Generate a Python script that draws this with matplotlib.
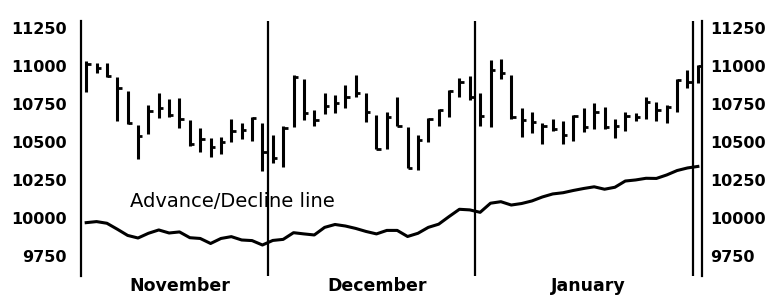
import matplotlib
matplotlib.use('Agg')
from matplotlib import pyplot as plt

# daily high / low / close, Nov -> Jan (60 sessions)
highs = [11035, 11018, 11022, 10930, 10837, 10612, 10743, 10824, 10781, 10787,
         10645, 10590, 10524, 10535, 10649, 10627, 10666, 10627,
         10546, 10605, 10941, 10913, 10711, 10824, 10809, 10875, 10941, 10824,
         10678, 10696, 10798, 10601, 10546, 10656, 10717, 10842, 10919, 10936,
         10820, 11039, 11044, 10941, 10722, 10699, 10623, 10649, 10640, 10678,
         10722, 10759, 10732, 10649, 10699, 10693, 10794, 10765, 10743, 10912,
         10974, 11007]
lows = [10831, 10952, 10930, 10640, 10618, 10386, 10553, 10656, 10663, 10590,
        10474, 10436, 10399, 10421, 10502, 10518, 10509, 10311,
        10360, 10337, 10597, 10645, 10605, 10682, 10689, 10722, 10794, 10634,
        10452, 10454, 10607, 10331, 10316, 10498, 10607, 10666, 10798, 10776,
        10605, 10597, 10912, 10649, 10535, 10557, 10487, 10574, 10487, 10509,
        10568, 10584, 10584, 10524, 10574, 10640, 10649, 10640, 10627, 10699,
        10853, 10890]
closes = [11010, 10985, 10935, 10855, 10623, 10540, 10706, 10725, 10675, 10649,
          10487, 10518, 10465, 10502, 10570, 10579, 10655, 10434,
          10395, 10590, 10926, 10690, 10645, 10737, 10755, 10794, 10820, 10699,
          10452, 10666, 10607, 10331, 10513, 10651, 10711, 10836, 10897, 10798,
          10671, 10974, 10952, 10662, 10645, 10634, 10605, 10584, 10546, 10671,
          10597, 10699, 10597, 10605, 10671, 10662, 10765, 10711, 10732, 10908,
          10897, 11000]
ad_line = [9969, 9976, 9965, 9926, 9885, 9868, 9899, 9921, 9901, 9908,
           9870, 9865, 9832, 9865, 9877, 9855, 9851, 9822,
           9852, 9859, 9903, 9895, 9888, 9938, 9957, 9947, 9931, 9911,
           9895, 9918, 9918, 9878, 9899, 9938, 9959, 10009, 10057, 10053,
           10037, 10097, 10107, 10085, 10095, 10112, 10138, 10158, 10166, 10181,
           10194, 10205, 10189, 10202, 10243, 10250, 10261, 10260, 10283, 10312,
           10329, 10339]
months = ['November', 'December', 'January']
month_centers = [9.0, 28.1, 48.4]
month_breaks = [17.5, 37.5, 58.5]
yticks = [9750, 10000, 10250, 10500, 10750, 11000, 11250]

days = list(range(len(highs)))

fig = plt.figure(figsize=(7.72, 2.97), dpi=100)
ax = fig.add_axes([81 / 772, 1 - 276 / 297, 621 / 772, 255 / 297])

ax.vlines(days, lows, highs, color='black', lw=2.2)
ax.hlines(closes, days, [d + 0.42 for d in days], color='black', lw=2.0)
ax.plot(days, ad_line, color='black', lw=2.2)

for b in month_breaks:
    ax.axvline(b, color='black', lw=1.6)

ax.set_xlim(-0.5, 59.4)
ax.set_ylim(9618, 11296)
ax.set_yticks(yticks)
ax.set_xticks([])
ax.tick_params(axis='y', length=0, pad=10, labelsize=11.5)
for lab in ax.get_yticklabels():
    lab.set_fontweight('bold')

right = ax.secondary_yaxis('right')
right.set_yticks(yticks)
right.tick_params(axis='y', length=0, pad=6, labelsize=11.5)
right.spines['right'].set_visible(False)
for lab in right.get_yticklabels():
    lab.set_fontweight('bold')

for s in ['top', 'bottom']:
    ax.spines[s].set_visible(False)
for s in ['left', 'right']:
    ax.spines[s].set_linewidth(1.6)

for m, c in zip(months, month_centers):
    ax.text(c, 9553, m, ha='center', va='center', fontsize=12.5,
            fontweight='bold', clip_on=False)

ax.text(4.2, 10109, 'Advance/Decline line', ha='left', va='center', fontsize=14)

fig.savefig('out.png', dpi=100)
